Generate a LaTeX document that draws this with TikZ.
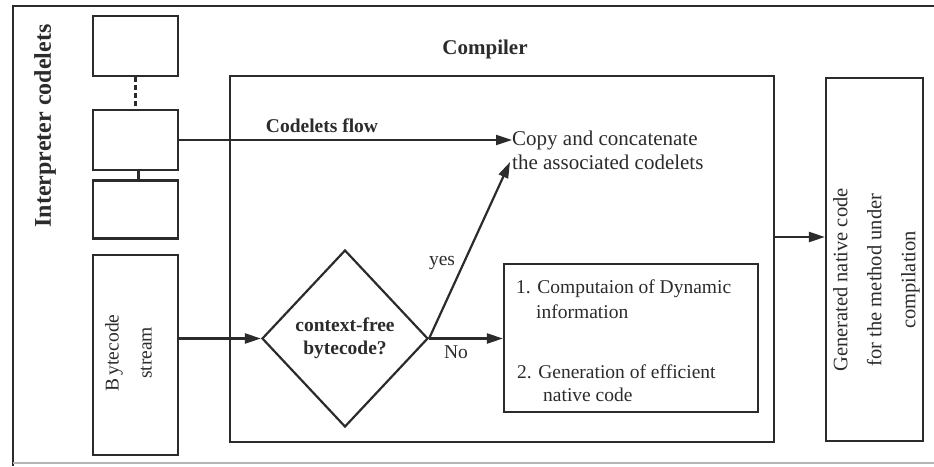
\documentclass[tikz,border=0pt]{standalone}
\usepackage{fontspec}
\setmainfont{Liberation Serif}
\usetikzlibrary{shapes.geometric,arrows.meta}
\definecolor{ink}{HTML}{2B2B2B}
\begin{document}
\begin{tikzpicture}[x=1pt,y=-1pt,
  every node/.style={text=ink},
  plain/.style={font=\fontsize{19.5}{23}\selectfont},
  heavy/.style={font=\fontsize{19.5}{23}\selectfont\bfseries},
  box/.style={draw=ink,line width=2.2pt,rectangle,inner sep=0pt},
  link/.style={draw=ink,line width=2.2pt},
  arr/.style={link,-{Triangle[length=16pt,width=10pt]}}
]
\useasboundingbox (0,0) rectangle (934,466);

% surrounding frame
\draw[ink,line width=1.8pt] (934,6) -- (13,6) -- (13,466);
\draw[ink!35,line width=1.2pt] (13,463) -- (934,463);

% interpreter codelets column
\node[box,minimum width=85pt,minimum height=60pt] (cod1) at (135.5,46) {};
\node[box,minimum width=85pt,minimum height=60pt] (cod2) at (135.5,140) {};
\node[box,minimum width=85pt,minimum height=58pt] (cod3) at (135.5,209.5) {};
\node[box,minimum width=85pt,minimum height=200pt] (bytes) at (135.5,355) {};
\node[plain,rotate=90,align=center,font=\fontsize{19.5}{33}\selectfont] (bytestxt) at (128.5,353) {B\,ytecode\\stream};
\node[rotate=90,font=\fontsize{24}{28}\selectfont\bfseries] (interp) at (45,126) {Interpreter codelets};
\draw[link,dash pattern=on 5pt off 3pt] (cod1.south) -- (cod2.north);
\draw[link] ([xshift=3pt]cod2.south) -- ([xshift=3pt]cod3.north);

% compiler
\node[box,minimum width=544pt,minimum height=366pt] (comp) at (502,259) {};
\node[font=\fontsize{21}{25}\selectfont\bfseries] (comptitle) at (485,49) {Compiler};
\node[heavy] (flowlbl) at (322,126) {Codelets flow};
\node[align=left,anchor=west,inner sep=0pt,font=\fontsize{21}{24}\selectfont] (copy) at (512,150) {Copy and concatenate\\the associated codelets};
\node[draw=ink,line width=2.2pt,diamond,aspect=0.94,minimum width=166pt,minimum height=177pt,inner sep=0pt,heavy,align=center] (dec) at (345,338.5) {context-free\\bytecode?};
\node[box,minimum width=254pt,minimum height=148pt] (steps) at (631,338) {};
\node[plain,anchor=west,inner sep=0pt] (s1a) at (516,289) {1. Computaion of Dynamic};
\node[plain,anchor=west,inner sep=0pt] (s1b) at (536,312) {information};
\node[plain,anchor=west,inner sep=0pt] (s2a) at (517,372) {2. Generation of efficient};
\node[plain,anchor=west,inner sep=0pt] (s2b) at (543,395) {native code};
\node[plain] (yes) at (442,263) {yes};
\node[plain] (no) at (456,352) {No};
\coordinate (yestip) at (510,162);

% output
\node[box,minimum width=97pt,minimum height=363pt] (gen) at (874.5,259.5) {};
\node[rotate=90,align=center,font=\fontsize{20.5}{34}\selectfont] (gentxt) at (876.5,280) {Generated native code\\for the method under\\compilation};

% connectors
\draw[arr] (cod2.east) -- (cod2.east -| copy.west);
\draw[arr] (bytes.east |- dec.west) -- (dec.west);
\draw[arr] (dec.east) -- (yestip);
\draw[arr] (dec.east) -- (dec.east -| steps.west);
\draw[arr] ([yshift=22pt]comp.east) -- ([yshift=22pt]comp.east -| gen.west);
\end{tikzpicture}
\end{document}
